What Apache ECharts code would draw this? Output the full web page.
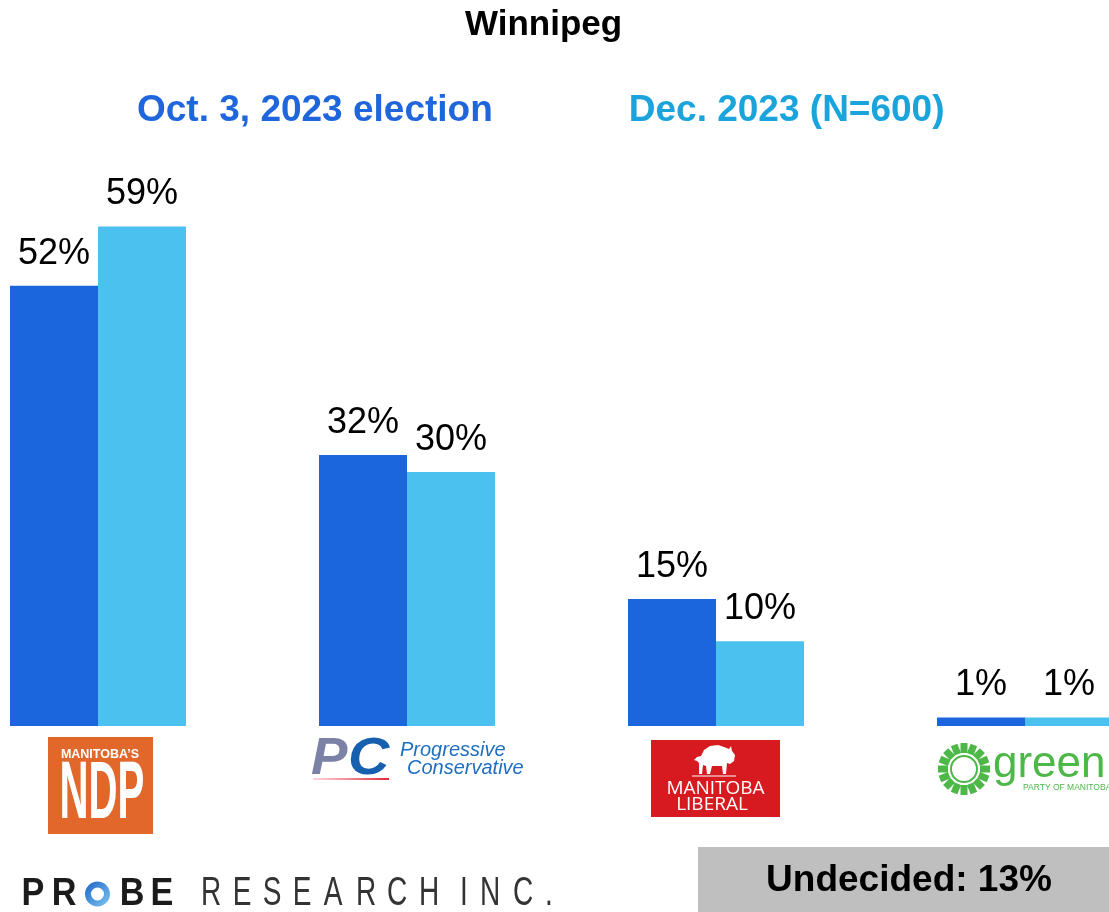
<!DOCTYPE html>
<html>
<head>
<meta charset="utf-8">
<script src="https://cdn.jsdelivr.net/npm/echarts@6/dist/echarts.min.js"></script>
<style>
  html, body { margin: 0; padding: 0; background: #fff; }
  #chart { width: 1109px; height: 912px; }
</style>
</head>
<body>
<div id="chart"></div>
<script>
// vote share, Winnipeg
const parties = ['NDP', 'PC', 'Liberal', 'Green'];
const electionOct = [52, 32, 15, 1];
const pollDec = [59, 30, 10, 1];
const seriesNames = ['Oct. 3, 2023 election', 'Dec. 2023 (N=600)'];
const undecided = 13;

const FONT = 'Arial, "Liberation Sans", Helvetica, sans-serif';
const DARK = '#1c66dd';
const LIGHT = '#4bc1ef';

const chart = echarts.init(document.getElementById('chart'), null, { renderer: 'canvas' });

// letter-spaced wordmark at the bottom left
function spaced(chars, centers, y, opts) {
  return chars.map((c, i) => ({
    type: 'text',
    x: centers[i],
    y: y,
    scaleX: opts.scaleX,
    style: {
      text: c,
      fill: opts.fill,
      fontSize: opts.fontSize,
      fontWeight: opts.fontWeight,
      fontFamily: FONT,
      align: 'center',
      verticalAlign: 'middle'
    }
  }));
}

// green party flower: ring of small petals
function petals(cx, cy) {
  const out = [];
  const n = 16;
  for (let i = 0; i < n; i++) {
    const a = (i / n) * Math.PI * 2;
    out.push({
      type: 'rect',
      x: cx + Math.cos(a) * 21,
      y: cy + Math.sin(a) * 21,
      rotation: -a,
      shape: { x: -5, y: -3.5, width: 10, height: 7 },
      style: { fill: '#4db848' }
    });
  }
  return out;
}

const probeLetters = spaced(['P', 'R', 'B', 'E'], [33, 64, 132, 162], 895,
  { fill: '#1b1b1b', fontSize: 38, fontWeight: 'bold', scaleX: 0.9 });
const researchLetters = spaced(
  ['R', 'E', 'S', 'E', 'A', 'R', 'C', 'H', 'I', 'N', 'C', '.'],
  [211, 242, 272, 302, 333, 366, 397, 429, 464, 490, 523, 549], 894,
  { fill: '#333', fontSize: 40, fontWeight: 'normal', scaleX: 0.7 });

const barLabel = {
  show: true, position: 'top', distance: 14,
  formatter: '{c}%', fontSize: 36, color: '#000', fontFamily: FONT
};

const option = {
  backgroundColor: '#fff',
  title: {
    text: 'Winnipeg',
    left: 465,
    top: 8,
    padding: 0,
    textStyle: { fontSize: 35, fontWeight: 'bold', color: '#000', fontFamily: FONT }
  },
  legend: {
    data: [
      { name: seriesNames[0], textStyle: { color: '#1f66dd' } },
      { name: seriesNames[1], textStyle: { color: '#1ba4dc' } }
    ],
    icon: 'none',
    itemWidth: 0,
    itemHeight: 37,
    itemGap: 131,
    left: 132,
    top: 92,
    padding: 0,
    selectedMode: false,
    textStyle: { fontSize: 37, fontWeight: 'bold', fontFamily: FONT }
  },
  grid: {
    left: 98,
    right: 84,
    top: 218,
    bottom: 186,
    containLabel: false
  },
  xAxis: {
    type: 'category',
    data: parties,
    boundaryGap: false,
    axisLine: { show: false },
    axisTick: { show: false },
    axisLabel: { show: false },
    splitLine: { show: false }
  },
  yAxis: {
    type: 'value',
    min: 0,
    max: 60,
    show: false,
    splitLine: { show: false }
  },
  series: [
    {
      name: seriesNames[0],
      type: 'bar',
      data: electionOct,
      barWidth: 88,
      barGap: '0%',
      clip: false,
      itemStyle: { color: DARK },
      label: barLabel
    },
    {
      name: seriesNames[1],
      type: 'bar',
      data: pollDec,
      barWidth: 88,
      barGap: '0%',
      clip: false,
      itemStyle: { color: LIGHT },
      label: barLabel
    }
  ],
  graphic: [
    // NDP logo
    { type: 'rect', shape: { x: 48, y: 737, width: 105, height: 97 }, style: { fill: '#e2672a' } },
    { type: 'text', x: 100, y: 755, style: { text: 'MANITOBA’S', fill: '#fff', fontSize: 12.5, fontWeight: 'bold', fontFamily: FONT, align: 'center', verticalAlign: 'middle' } },
    { type: 'text', x: 102, y: 795, scaleX: 0.49, style: { text: 'NDP', fill: '#fff', fontSize: 82, fontWeight: 'bold', fontFamily: FONT, align: 'center', verticalAlign: 'middle' } },

    // PC logo
    { type: 'text', x: 311, y: 760, scaleX: 1.05, style: { text: 'P', fill: '#7b82a6', fontSize: 52, fontWeight: 'bold', fontStyle: 'italic', fontFamily: FONT, align: 'left', verticalAlign: 'middle' } },
    { type: 'text', x: 348, y: 760, scaleX: 1.1, style: { text: 'C', fill: '#1760b0', fontSize: 52, fontWeight: 'bold', fontStyle: 'italic', fontFamily: FONT, align: 'left', verticalAlign: 'middle' } },
    {
      type: 'rect', shape: { x: 313, y: 778, width: 76, height: 2 },
      style: { fill: new echarts.graphic.LinearGradient(0, 0, 1, 0, [{ offset: 0, color: 'rgba(230,60,70,0.2)' }, { offset: 1, color: '#e3283a' }]) }
    },
    { type: 'text', x: 400, y: 750, style: { text: 'Progressive', fill: '#1e6ec4', fontSize: 20, fontStyle: 'italic', fontFamily: FONT, align: 'left', verticalAlign: 'middle' } },
    { type: 'text', x: 407, y: 768, style: { text: 'Conservative', fill: '#1e6ec4', fontSize: 20, fontStyle: 'italic', fontFamily: FONT, align: 'left', verticalAlign: 'middle' } },

    // Manitoba Liberal logo
    { type: 'rect', shape: { x: 651, y: 740, width: 129, height: 77 }, style: { fill: '#d71920' } },
    {
      type: 'polygon',
      shape: {
        points: [[694, 760], [697, 757], [701, 756], [704, 750], [710, 746], [718, 745], [724, 747], [729, 749],
          [731, 746], [732, 751], [735, 755], [734, 761], [730, 764], [727, 763], [726, 774], [723, 774],
          [722, 766], [712, 766], [710, 774], [707, 774], [706, 766], [703, 765], [702, 774], [699, 774],
          [699, 763], [697, 761]]
      },
      style: { fill: '#fff' }
    },
    { type: 'rect', shape: { x: 692, y: 775.5, width: 44, height: 1 }, style: { fill: '#fff' } },
    { type: 'text', x: 715.5, y: 789, style: { text: 'MANITOBA', fill: '#fff', fontSize: 19, fontFamily: '"Open Sans", ' + FONT, align: 'center', verticalAlign: 'middle' } },
    { type: 'text', x: 712, y: 805, style: { text: 'LIBERAL', fill: '#fff', fontSize: 19, fontFamily: '"Open Sans", ' + FONT, align: 'center', verticalAlign: 'middle' } },

    // Green party logo
    ...petals(964, 769),
    { type: 'circle', shape: { cx: 964, cy: 769, r: 13 }, style: { fill: '#fff', stroke: '#4db848', lineWidth: 2 } },
    { type: 'text', x: 993, y: 765, style: { text: 'green', fill: '#4db848', fontSize: 44, fontFamily: FONT, align: 'left', verticalAlign: 'middle' } },
    { type: 'text', x: 1023, y: 788, style: { text: 'PARTY OF MANITOBA', fill: '#4db848', fontSize: 8.5, fontFamily: FONT, align: 'left', verticalAlign: 'middle' } },

    // Probe Research wordmark
    ...probeLetters,
    {
      type: 'circle', shape: { cx: 97.5, cy: 894, r: 9.5 },
      style: {
        fill: 'none', lineWidth: 6,
        stroke: new echarts.graphic.LinearGradient(0, 0, 1, 1, [{ offset: 0, color: '#1f62c6' }, { offset: 1, color: '#7cc8f2' }])
      }
    },
    ...researchLetters,

    // undecided box
    { type: 'rect', shape: { x: 698, y: 847, width: 411, height: 65 }, style: { fill: '#bfbfbf' } },
    { type: 'text', x: 909, y: 881, style: { text: 'Undecided: ' + undecided + '%', fill: '#000', fontSize: 37, fontWeight: 'bold', fontFamily: FONT, align: 'center', verticalAlign: 'middle' } }
  ]
};

chart.setOption(option);
</script>
</body>
</html>
